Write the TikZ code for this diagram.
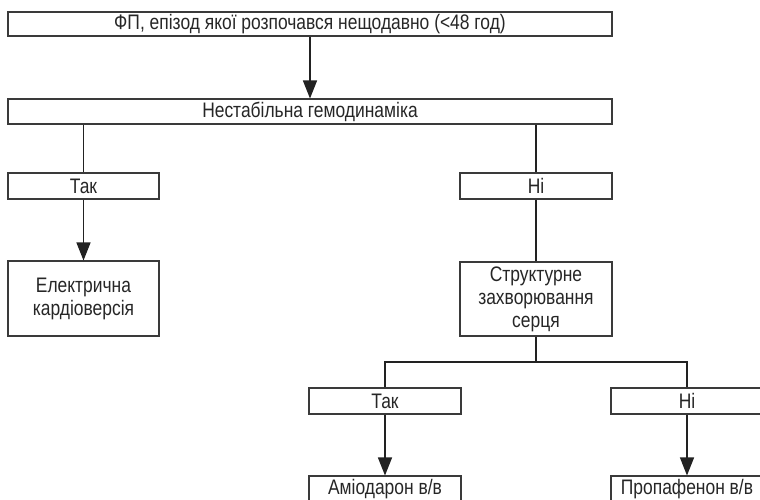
\documentclass[tikz,border=0pt]{standalone}
\usepackage{fontspec}
\setmainfont{Liberation Sans}[FakeStretch=0.83]
\usetikzlibrary{arrows.meta}
\definecolor{inkline}{HTML}{222222}
\definecolor{boxline}{HTML}{3A3A3A}
\begin{document}
\begin{tikzpicture}[x=1pt,y=-1pt,
  box/.style={draw=boxline,line width=1.1pt,rectangle,inner sep=0pt,align=center,
    text=black!85,font=\fontsize{21}{23}\selectfont},
  link/.style={draw=inkline,line width=1.3pt},
  flow/.style={link,-{Triangle[length=18pt,width=14pt]}}]
\useasboundingbox (0,0) rectangle (760,500);
\clip (0,0) rectangle (760,500);
% question boxes
\node[box,minimum width=604pt,minimum height=24pt] (onset) at (310,24)
  {ФП, епізод якої розпочався нещодавно (<48 год)};
\node[box,minimum width=604pt,minimum height=25pt] (hemo) at (310,111.5)
  {Нестабільна гемодинаміка};
\node[box,minimum width=151pt,minimum height=26pt] (yesA) at (83.5,186) {Так};
\node[box,minimum width=152pt,minimum height=26pt] (noA) at (536,186) {Ні};
\node[box,minimum width=151pt,minimum height=75pt] (cardio) at (83.5,298.5)
  {Електрична\\кардіоверсія};
\node[box,minimum width=152pt,minimum height=74pt] (heart) at (536,299)
  {Структурне\\захворювання\\серця};
\node[box,minimum width=152pt,minimum height=26pt] (yesB) at (385,401) {Так};
\node[box,minimum width=152pt,minimum height=26pt] (noB) at (687,401) {Ні};
\node[box,minimum width=152pt,minimum height=26pt] (amio) at (385,489) {Аміодарон в/в};
\node[box,minimum width=152pt,minimum height=26pt] (propa) at (687,489) {Пропафенон в/в};
\coordinate (split) at (536,362);
% connectors
\draw[flow] (onset) -- (hemo);
\draw[link] (yesA.north |- hemo.south) -- (yesA.north);
\draw[link] (noA.north |- hemo.south) -- (noA.north);
\draw[flow] (yesA) -- (cardio);
\draw[link] (noA) -- (heart);
\draw[link] (heart.south) -- (split);
\draw[link] (yesB.north) |- (split) -| (noB.north);
\draw[flow] (yesB) -- (amio);
\draw[flow] (noB) -- (propa);
\end{tikzpicture}
\end{document}
